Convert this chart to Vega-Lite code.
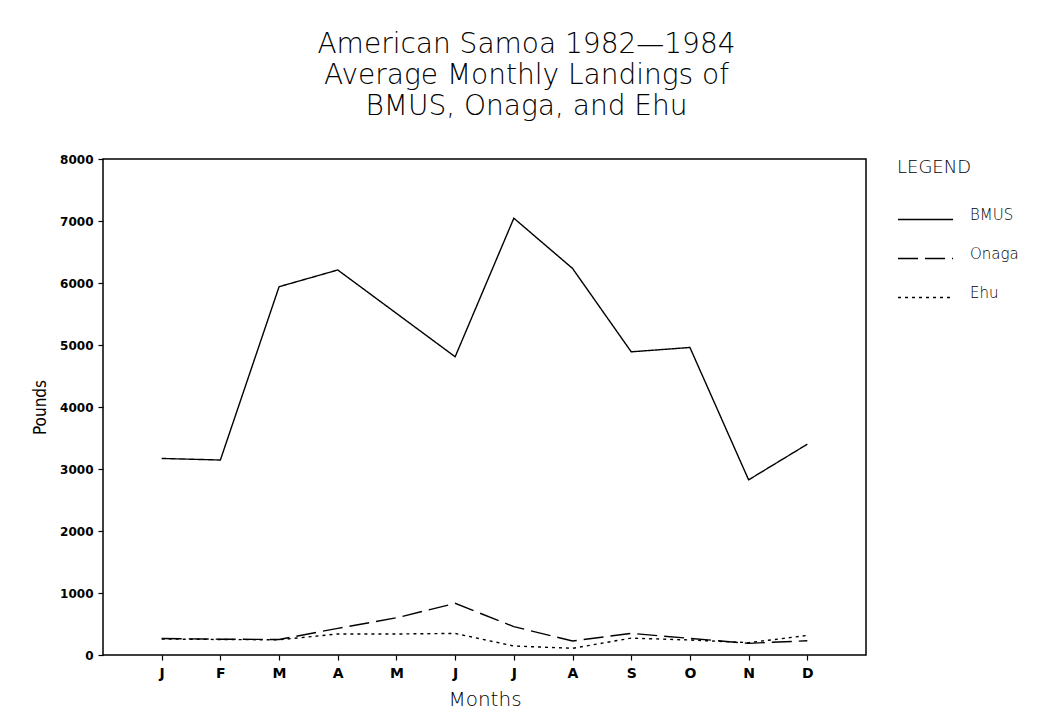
{
  "$schema": "https://vega.github.io/schema/vega-lite/v6.json",
  "width": 763,
  "height": 496,
  "autosize": {"type": "none"},
  "padding": {"left": 103, "top": 159, "right": 182, "bottom": 66},
  "background": "white",
  "title": {
    "text": ["American Samoa 1982\u20141984", "Average Monthly Landings of", "BMUS, Onaga, and Ehu"],
    "frame": "group",
    "anchor": "middle",
    "dx": 42,
    "offset": 32,
    "fontSize": 28,
    "lineHeight": 31,
    "font": "DejaVu Sans",
    "fontWeight": 200,
    "color": "black"
  },
  "config": {
    "view": {"stroke": "black", "strokeWidth": 1.5},
    "axis": {"grid": false, "domain": false, "tickColor": "black", "labelColor": "black", "titleColor": "black"}
  },
  "data": {
    "values": [
      {"m": 1, "mon": "J", "species": "BMUS", "pounds": 3170},
      {"m": 2, "mon": "F", "species": "BMUS", "pounds": 3145},
      {"m": 3, "mon": "M", "species": "BMUS", "pounds": 5940},
      {"m": 4, "mon": "A", "species": "BMUS", "pounds": 6210},
      {"m": 5, "mon": "M", "species": "BMUS", "pounds": 5510},
      {"m": 6, "mon": "J", "species": "BMUS", "pounds": 4810},
      {"m": 7, "mon": "J", "species": "BMUS", "pounds": 7045},
      {"m": 8, "mon": "A", "species": "BMUS", "pounds": 6235},
      {"m": 9, "mon": "S", "species": "BMUS", "pounds": 4890},
      {"m": 10, "mon": "O", "species": "BMUS", "pounds": 4960},
      {"m": 11, "mon": "N", "species": "BMUS", "pounds": 2825},
      {"m": 12, "mon": "D", "species": "BMUS", "pounds": 3400},
      {"m": 1, "mon": "J", "species": "Onaga", "pounds": 265},
      {"m": 2, "mon": "F", "species": "Onaga", "pounds": 255},
      {"m": 3, "mon": "M", "species": "Onaga", "pounds": 250},
      {"m": 4, "mon": "A", "species": "Onaga", "pounds": 430},
      {"m": 5, "mon": "M", "species": "Onaga", "pounds": 600},
      {"m": 6, "mon": "J", "species": "Onaga", "pounds": 833},
      {"m": 7, "mon": "J", "species": "Onaga", "pounds": 457},
      {"m": 8, "mon": "A", "species": "Onaga", "pounds": 226},
      {"m": 9, "mon": "S", "species": "Onaga", "pounds": 349},
      {"m": 10, "mon": "O", "species": "Onaga", "pounds": 268},
      {"m": 11, "mon": "N", "species": "Onaga", "pounds": 188},
      {"m": 12, "mon": "D", "species": "Onaga", "pounds": 230},
      {"m": 1, "mon": "J", "species": "Ehu", "pounds": 258},
      {"m": 2, "mon": "F", "species": "Ehu", "pounds": 250},
      {"m": 3, "mon": "M", "species": "Ehu", "pounds": 245},
      {"m": 4, "mon": "A", "species": "Ehu", "pounds": 339},
      {"m": 5, "mon": "M", "species": "Ehu", "pounds": 339},
      {"m": 6, "mon": "J", "species": "Ehu", "pounds": 348},
      {"m": 7, "mon": "J", "species": "Ehu", "pounds": 145},
      {"m": 8, "mon": "A", "species": "Ehu", "pounds": 108},
      {"m": 9, "mon": "S", "species": "Ehu", "pounds": 272},
      {"m": 10, "mon": "O", "species": "Ehu", "pounds": 242},
      {"m": 11, "mon": "N", "species": "Ehu", "pounds": 199},
      {"m": 12, "mon": "D", "species": "Ehu", "pounds": 315}
    ]
  },
  "mark": {"type": "line", "color": "black", "strokeWidth": 1.4},
  "encoding": {
    "x": {
      "field": "m",
      "type": "ordinal",
      "scale": {"type": "point", "padding": 1},
      "axis": {
        "title": "Months",
        "labelExpr": "['J','F','M','A','M','J','J','A','S','O','N','D'][datum.value-1]",
        "labelAngle": 0,
        "labelFont": "DejaVu Sans",
        "labelFontSize": 14,
        "labelFontWeight": "bold",
        "labelPadding": 6,
        "tickSize": 5,
        "tickWidth": 1.2,
        "titleFont": "DejaVu Sans",
        "titleFontSize": 20,
        "titleFontWeight": 200,
        "titlePadding": 9
      }
    },
    "y": {
      "field": "pounds",
      "type": "quantitative",
      "scale": {"domain": [0, 8000], "nice": false},
      "axis": {
        "title": "Pounds",
        "values": [0, 1000, 2000, 3000, 4000, 5000, 6000, 7000, 8000],
        "format": "d",
        "labelFont": "DejaVu Sans",
        "labelFontSize": 12,
        "labelFontWeight": "bold",
        "tickSize": 5,
        "tickWidth": 1.2,
        "labelPadding": 5,
        "titleFont": "DejaVu Sans Condensed",
        "titleFontSize": 17,
        "titleFontWeight": "normal",
        "titlePadding": 10
      }
    },
    "strokeDash": {
      "field": "species",
      "type": "nominal",
      "scale": {"domain": ["BMUS", "Onaga", "Ehu"], "range": [[1, 0], [20, 7], [3, 4]]},
      "legend": {
        "title": "LEGEND",
        "orient": "none",
        "legendX": 794,
        "legendY": 0,
        "titleFont": "DejaVu Sans",
        "titleFontSize": 18,
        "titleFontWeight": 200,
        "titleColor": "black",
        "titlePadding": 14,
        "labelFont": "DejaVu Sans",
        "labelFontSize": 15,
        "labelFontWeight": 200,
        "labelColor": "black",
        "labelOffset": 16,
        "labelBaseline": "alphabetic",
        "symbolType": "stroke",
        "symbolSize": 3025,
        "symbolStrokeColor": "black",
        "symbolStrokeWidth": 1.4,
        "rowPadding": 7
      }
    }
  }
}
